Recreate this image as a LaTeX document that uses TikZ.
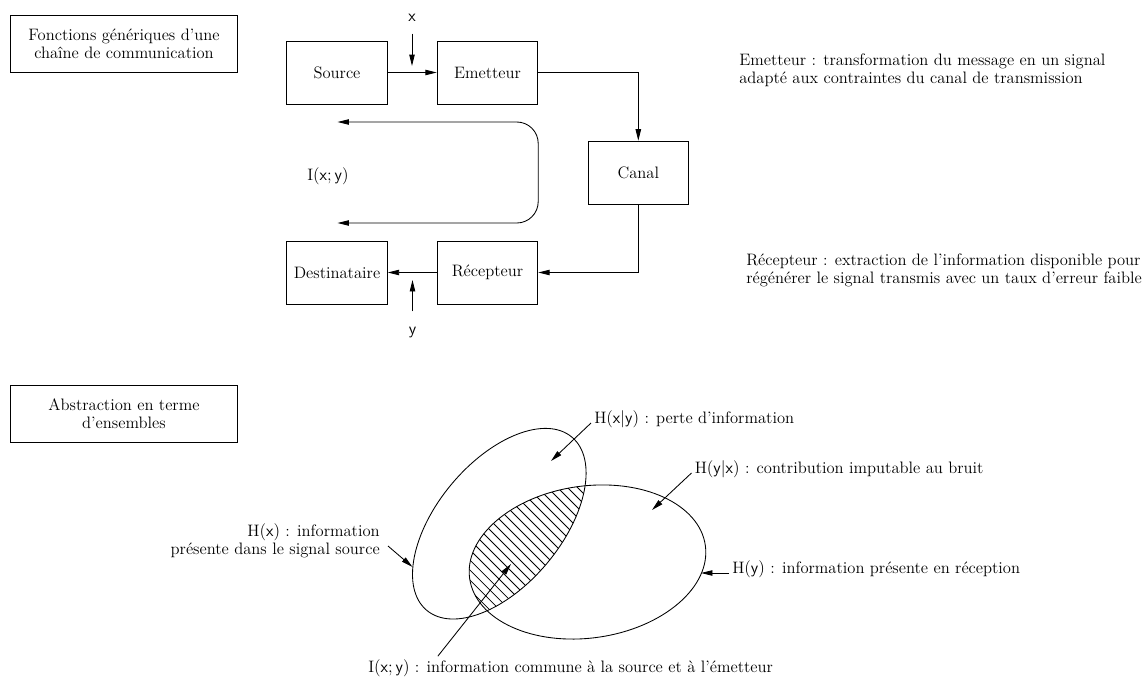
\documentclass[tikz,border=0pt]{standalone}
\usepackage{fontspec}
\usepackage{amsmath,amssymb}
\usepackage{tikz}
\usetikzlibrary{arrows.meta,positioning}

\begin{document}
\begin{tikzpicture}[
        x=0.7pt, y=-0.7pt,
        font=\fontsize{11.6}{12.5}\selectfont,
        line width=0.6pt,
        box/.style = {draw, minimum width=70.4pt, minimum height=44pt, inner sep=0pt},
        titlebox/.style = {draw, minimum width=158.5pt, minimum height=40pt, align=center},
        no/.style = {inner sep=2pt},
        arr/.style = {-{Triangle[length=8pt,width=3.8pt]}},
        dblarr/.style = {{Triangle[length=8pt,width=3.8pt]}-{Triangle[length=8pt,width=3.8pt]}},
        ]
        \useasboundingbox (0,0) rectangle (1143,677);

        % chaine de communication
        \node[titlebox](t1) at (124,43.5) {Fonctions génériques d'une\\chaîne de communication};
        \node[box](src) at (337,72.5) {Source};
        \node[box](em) at (487.5,72.5) {Emetteur};
        \node[box](can) at (638.3,172.5) {Canal};
        \node[box](rec) at (487.5,272.5) {Récepteur};
        \node[box](dst) at (337,272.5) {Destinataire};

        \draw[arr] (src) -- (em);
        \draw[arr] (em.east) -| (can.north);
        \draw[arr] (can.south) |- (rec.east);
        \draw[arr] (rec) -- (dst);

        \node[no](xin) at (412,18) {$\mathsf{x}$};
        \coordinate (xtip) at (412,66);
        \draw[arr, shorten <=6pt] (xin) -- (xtip);
        \node[no](yin) at (412.5,333) {$\mathsf{y}$};
        \coordinate (ytip) at (412.5,280);
        \draw[arr, shorten <=9pt] (yin) -- (ytip);

        \coordinate (ia) at (337.5,122);
        \coordinate (ib) at (337.5,223);
        \draw[dblarr, rounded corners=15pt] (ia) -- (ia -| em.east) -- (ib -| em.east) -- (ib);
        \node[no](ixy) at (328,176) {$\mathrm{I}(\mathsf{x};\mathsf{y})$};

        \node[no, anchor=west, align=left](emtxt) at (736,70)
            {Emetteur : transformation du message en un signal\\adapté aux contraintes du canal de transmission};
        \node[no, anchor=west, align=left](rectxt) at (743,270.5)
            {Récepteur : extraction de l'information disponible pour\\régénérer le signal transmis avec un taux d'erreur faible};

        % ensembles
        \node[titlebox](t2) at (124,413.5) {Abstraction en terme\\d'ensembles};

        \coordinate (cx) at (499.3,523.7);
        \coordinate (cy) at (587.5,562);
        \begin{scope}
            \clip[shift={(cx)}, rotate=50] (0,0) ellipse [x radius=113, y radius=62];
            \clip[shift={(cy)}, rotate=8] (0,0) ellipse [x radius=119, y radius=76];
            \foreach \k in {0,...,32}
                \draw[line width=0.5pt] (260+10*\k,420) -- ++(260,260);
        \end{scope}
        \draw[shift={(cx)}, rotate=50] (0,0) ellipse [x radius=113, y radius=62];
        \draw[shift={(cy)}, rotate=8] (0,0) ellipse [x radius=119, y radius=76];

        \node[no, anchor=base west](hxy) at (591,423) {$\mathrm{H}(\mathsf{x}|\mathsf{y})$ : perte d'information};
        \coordinate (hxytip) at (551,461);
        \draw[arr] (hxy.base west) -- (hxytip);

        \node[no, anchor=base west](hyx) at (691.5,473) {$\mathrm{H}(\mathsf{y}|\mathsf{x})$ : contribution imputable au bruit};
        \coordinate (hyxtip) at (652,510);
        \draw[arr] (hyx.base west) -- (hyxtip);

        \node[no, anchor=base west](hy) at (729,573) {$\mathrm{H}(\mathsf{y})$ : information présente en réception};
        \coordinate (hytip) at (701,573);
        \draw[arr] (hy.base west) -- (hytip);

        \node[no, anchor=east, align=right](hx) at (383,541) {$\mathrm{H}(\mathsf{x})$ : information\\présente dans le signal source};
        \coordinate (hxtip) at (412.5,567);
        \draw[arr] ([shift={(5,5)}]hx.east) -- (hxtip);

        \node[no, anchor=west](ixy2) at (365,668) {$\mathrm{I}(\mathsf{x};\mathsf{y})$ : information commune à la source et à l'émetteur};
        \coordinate (ixytip) at (511,564);
        \draw[arr] ([xshift=51pt]ixy2.north west) -- (ixytip);

\end{tikzpicture}
\end{document}
